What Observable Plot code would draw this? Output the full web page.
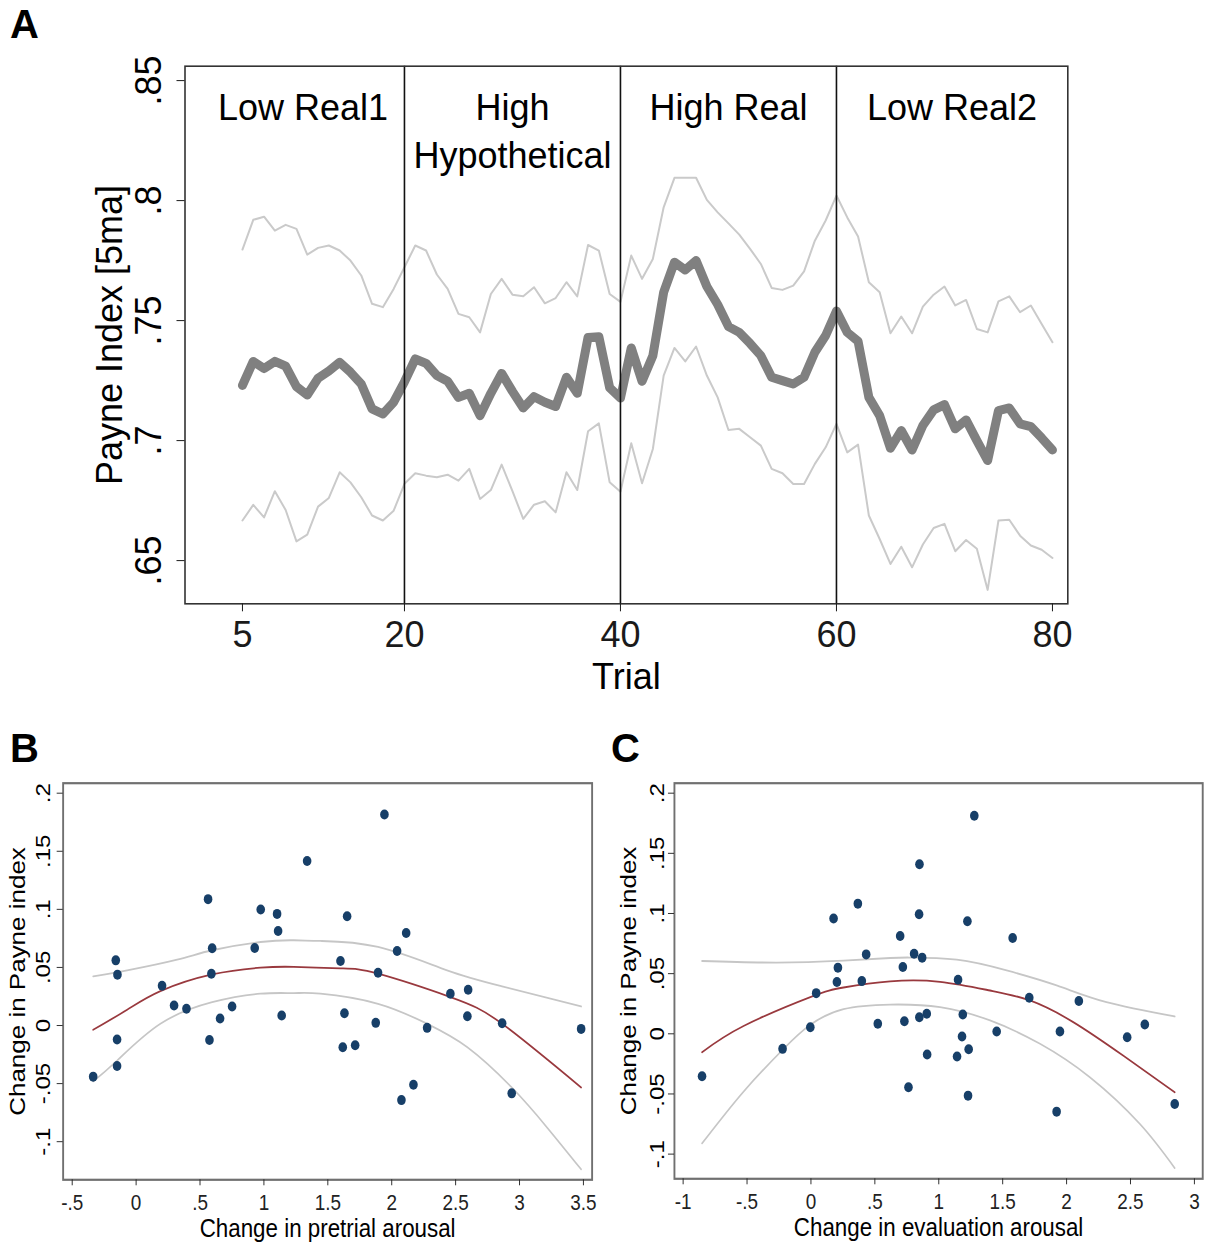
<!DOCTYPE html>
<html><head><meta charset="utf-8">
<script src="https://cdn.jsdelivr.net/npm/d3@7"></script>
<script src="https://cdn.jsdelivr.net/npm/@observablehq/plot@0.6"></script>
<style>
html,body{margin:0;padding:0;background:#fff;overflow:hidden;width:1206px;height:1249px;}
#root{position:relative;width:1206px;height:1249px;overflow:hidden;font-family:"Liberation Sans",Arial,Helvetica,sans-serif;}
.panel{position:absolute;}
.panel svg{max-width:none !important;display:block;}
.lbl{position:absolute;font-weight:bold;font-size:40px;line-height:1;color:#000;}
.squeeze{width:702px;height:549px;}
.squeeze svg{transform:scaleX(0.86);transform-origin:0 0;}
</style></head><body>
<div id="root">
  <div class="panel" id="pA" style="left:0;top:0;width:1206px;height:700px;"></div>
  <div class="panel squeeze" id="pB" style="left:0;top:700px;"></div>
  <div class="panel squeeze" id="pC" style="left:603px;top:700px;"></div>
  <div class="lbl" style="left:10px;top:4px;">A</div>
  <div class="lbl" style="left:10px;top:728px;">B</div>
  <div class="lbl" style="left:611px;top:728px;">C</div>
</div>
<script>
const FONT = "'Liberation Sans', Arial, Helvetica, sans-serif";

// ---------- Panel A data ----------
const trials = [5,6,7,8,9,10,11,12,13,14,15,16,17,18,19,20,21,22,23,24,25,26,27,28,29,30,31,32,33,34,35,36,37,38,39,40,41,42,43,44,45,46,47,48,49,50,51,52,53,54,55,56,57,58,59,60,61,62,63,64,65,66,67,68,69,70,71,72,73,74,75,76,77,78,79,80];
const payneMain = [0.723,0.733,0.730,0.733,0.731,0.7225,0.719,0.726,0.729,0.7326,0.7285,0.7236,0.7132,0.7111,0.716,0.7245,
  0.734,0.7322,0.7271,0.7247,0.718,0.7197,0.7104,0.7197,0.728,0.7205,0.7136,0.7183,0.716,0.7142,0.7264,0.7197,0.743,0.7433,0.722,0.7177,
  0.7386,0.7247,0.7354,0.7618,0.7743,0.7711,0.775,0.7642,0.7567,0.7475,0.7451,0.7405,0.7354,0.7264,0.725,0.7236,0.7264,0.7368,0.7438,0.754,
  0.7451,0.7414,0.718,0.7104,0.6968,0.7042,0.6961,0.7063,0.7128,0.715,0.7049,0.7086,0.700,0.6917,0.7125,0.7136,0.707,0.7058,0.7011,0.6961];
const payneUpper = [0.7796,0.792,0.7933,0.7875,0.7899,0.7882,0.7775,0.7803,0.7813,0.7792,0.775,0.7688,0.757,0.7556,0.7632,0.7722,
  0.7813,0.7792,0.7692,0.7632,0.7528,0.7514,0.7451,0.7611,0.7674,0.7608,0.7601,0.7639,0.7572,0.7594,0.766,0.7601,0.7815,0.7792,0.7611,0.7578,
  0.7771,0.7674,0.7757,0.7972,0.8095,0.8095,0.8095,0.8003,0.7951,0.7905,0.7858,0.7799,0.7736,0.7636,0.7628,0.7646,0.7705,0.7833,0.7917,0.8021,
  0.793,0.785,0.766,0.7618,0.7447,0.7517,0.7447,0.7558,0.7608,0.7642,0.7563,0.7586,0.7465,0.7451,0.758,0.7601,0.7535,0.7563,0.7486,0.741];
const payneLower = [0.6667,0.6732,0.668,0.6789,0.6711,0.658,0.6608,0.6725,0.6761,0.6868,0.6826,0.6764,0.6688,0.6667,0.6708,0.682,
  0.6864,0.6854,0.6847,0.6858,0.6833,0.6882,0.6757,0.6794,0.69,0.6789,0.6674,0.6733,0.6747,0.6701,0.6868,0.6794,0.7039,0.7072,0.6826,0.6787,
  0.6989,0.6822,0.6965,0.7271,0.7386,0.733,0.7392,0.7271,0.718,0.7044,0.7049,0.7014,0.6979,0.6882,0.6864,0.6819,0.6819,0.6903,0.6972,0.707,
  0.6951,0.6983,0.6688,0.659,0.6486,0.6558,0.6472,0.6567,0.6636,0.6653,0.6539,0.6586,0.6549,0.6378,0.6667,0.667,0.6604,0.6563,0.6545,0.6511];
const blockBoundaries = [20, 40, 60];
const blockLabels = ["Low Real1", "High\nHypothetical", "High Real", "Low Real2"];
const blockLabelTrial = [10.6, 30, 50, 70.7];
const xTicksA = [5, 20, 40, 60, 80];
const yTicksA = [0.65, 0.7, 0.75, 0.8, 0.85];
const yTickLabelsA = [".65", ".7", ".75", ".8", ".85"];
const xLabelA = "Trial";
const yLabelA = "Payne Index [5ma]";

// ---------- Panel B data ----------
const pretrialX = [-0.336,-0.159,-0.146,-0.149,-0.149,0.203,0.297,0.394,0.563,0.595,0.589,0.574,0.657,0.751,0.928,0.975,1.103,1.111,1.139,1.338,1.599,1.651,1.630,1.617,1.714,1.875,1.893,1.943,2.042,2.113,2.076,2.170,2.277,2.459,2.598,2.592,2.864,2.939,3.482];
const pretrialY = [-0.044,0.0561,0.0438,-0.0121,-0.0348,0.0343,0.0173,0.0144,0.1088,0.0665,0.0446,-0.0124,0.006,0.0164,0.0668,0.0999,0.0961,0.0814,0.0086,0.1416,0.0555,0.0941,0.0106,-0.0187,-0.017,0.0023,0.0455,0.1816,0.0642,0.0797,-0.0642,-0.051,-0.002,0.0274,0.0308,0.008,0.002,-0.0584,-0.0029];
const fitBX = [-0.336,-0.07,0.19,0.595,0.973,1.233,1.6,1.893,2.459,2.864,3.482];
const fitBY = [-0.0037,0.0136,0.0296,0.044,0.0498,0.0505,0.0492,0.0446,0.0245,0.0015,-0.0533];
const upBX = [-0.336,-0.07,0.321,0.595,0.973,1.233,1.442,1.893,2.433,2.864,3.482];
const upBY = [0.0423,0.0475,0.0567,0.0648,0.0719,0.0734,0.0728,0.0676,0.0475,0.0337,0.0164];
const loBX = [-0.336,-0.149,0.19,0.595,0.973,1.233,1.442,1.893,2.277,2.592,2.939,3.216,3.482];
const loBY = [-0.0481,-0.0302,0.0015,0.0201,0.0274,0.0279,0.0274,0.0187,0.0015,-0.0187,-0.0533,-0.0878,-0.1238];
const xTicksB = [-0.5,0,0.5,1,1.5,2,2.5,3,3.5];
const xTickLabelsB = ["-.5","0",".5","1","1.5","2","2.5","3","3.5"];
const xLabelB = "Change in pretrial arousal";

// ---------- Panel C data ----------
const evalX = [-0.852,-0.222,-0.005,0.041,0.177,0.211,0.203,0.367,0.398,0.432,0.523,0.698,0.719,0.731,0.763,0.849,0.846,0.807,0.87,0.848,0.906,0.909,1.143,1.182,1.234,1.188,1.151,1.224,1.278,1.229,1.453,1.578,1.708,1.922,1.948,2.096,2.474,2.612,2.846];
const evalY = [-0.0353,-0.0125,0.0055,0.0338,0.0958,0.055,0.043,0.1082,0.0438,0.066,0.0083,0.0813,0.0555,0.0105,-0.0444,0.141,0.0993,0.0666,0.0633,0.0138,0.0166,-0.0172,-0.0189,-0.0022,-0.0128,0.0161,0.045,0.0935,0.1812,-0.0514,0.0019,0.0796,0.03,-0.0647,0.0019,0.0272,-0.0028,0.0077,-0.0583];
const fitCX = [-0.852,-0.527,-0.005,0.255,0.62,1.01,1.401,1.713,2.052,2.442,2.846];
const fitCY = [-0.0153,0.0065,0.0305,0.0385,0.0436,0.0432,0.036,0.0277,0.0097,-0.0181,-0.0486];
const upCX = [-0.852,-0.266,0.255,0.62,0.776,1.141,1.531,1.922,2.312,2.846];
const upCY = [0.0605,0.0592,0.0608,0.0630,0.0634,0.0616,0.0527,0.0402,0.0263,0.0144];
const loCX = [-0.852,-0.527,-0.214,-0.005,0.255,0.62,1.01,1.401,1.792,2.182,2.573,2.846];
const loCY = [-0.0911,-0.048,-0.0125,0.0075,0.0205,0.0243,0.0222,0.0111,-0.0083,-0.0361,-0.0749,-0.1116];
const xTicksC = [-1,-0.5,0,0.5,1,1.5,2,2.5,3];
const xTickLabelsC = ["-1","-.5","0",".5","1","1.5","2","2.5","3"];
const xLabelC = "Change in evaluation arousal";

// shared y for B/C
const yTicksBC = [-0.1,-0.05,0,0.05,0.1,0.15,0.2];
const yTickLabelsBC = ["-.1","-.05","0",".05",".1",".15",".2"];
const yLabelBC = "Change in Payne index";

// ---------- Panel A ----------
const rowsA = trials.map((t, i) => ({trial: t, main: payneMain[i], upper: payneUpper[i], lower: payneLower[i]}));
const yMapA = new Map(yTicksA.map((v, i) => [v, yTickLabelsA[i]]));
const plotA = Plot.plot({
  width: 1206, height: 700,
  marginLeft: 184.5, marginRight: 138.7, marginTop: 65.7, marginBottom: 96.7,
  x: {domain: [-0.32, 81.42]},
  y: {domain: [0.632, 0.856]},
  style: {fontFamily: FONT, fontSize: "36px", color: "#1a1a1a", background: "transparent"},
  marks: [
    Plot.line(rowsA, {x: "trial", y: "upper", stroke: "#cacaca", strokeWidth: 2}),
    Plot.line(rowsA, {x: "trial", y: "lower", stroke: "#cacaca", strokeWidth: 2}),
    Plot.line(rowsA, {x: "trial", y: "main", stroke: "#808080", strokeWidth: 9, strokeLinejoin: "round", strokeLinecap: "round"}),
    Plot.ruleX(blockBoundaries, {stroke: "#111", strokeWidth: 1.6}),
    Plot.frame({stroke: "#333", strokeWidth: 1.6}),
    Plot.axisX({ticks: xTicksA, tickSize: 8, tickPadding: 10, fontSize: 36, label: null}),
    Plot.axisY({ticks: yTicksA, tickSize: 8, tickFormat: () => "", label: null}),
    Plot.text(yTicksA, {y: d => d, text: d => yMapA.get(d), frameAnchor: "left", textAnchor: "middle", dx: -35.5, rotate: -90, fontSize: 36, fill: "#000"}),
    Plot.text([yLabelA], {frameAnchor: "left", textAnchor: "middle", dx: -74.5, rotate: -90, fontSize: 36, fill: "#000"}),
    Plot.text([xLabelA], {frameAnchor: "bottom", dy: 60, lineAnchor: "top", fontSize: 36, fill: "#000"}),
    Plot.text(blockLabels, {x: (d, i) => blockLabelTrial[i], frameAnchor: "top", dy: 20, lineAnchor: "top", lineHeight: 1.33, fontSize: 36, fill: "#000"})
  ]
});
document.getElementById("pA").appendChild(plotA);

// ---------- Panels B & C ----------
const S = 0.86;
function scatterPanel(o) {
  const xMap = new Map(o.xTicks.map((v, i) => [v, o.xTickLabels[i]]));
  const yMap = new Map(yTicksBC.map((v, i) => [v, yTickLabelsBC[i]]));
  return Plot.plot({
    width: 603 / S, height: 549,
    marginLeft: o.ml / S, marginRight: o.mr / S, marginTop: 82.7, marginBottom: o.mb,
    x: {domain: o.xDomain},
    y: {domain: o.yDomain},
    style: {fontFamily: FONT, fontSize: "23px", color: "#222", background: "transparent"},
    marks: [
      Plot.line(o.upX, {x: o.upX, y: o.upY, stroke: "#c6c6c6", strokeWidth: 1.8, curve: "natural"}),
      Plot.line(o.loX, {x: o.loX, y: o.loY, stroke: "#c6c6c6", strokeWidth: 1.8, curve: "natural"}),
      Plot.line(o.fitX, {x: o.fitX, y: o.fitY, stroke: "#99393e", strokeWidth: 1.8, curve: "natural"}),
      Plot.dot(o.px, {x: o.px, y: o.py, r: 5, fill: "#173f68", stroke: "none"}),
      Plot.frame({stroke: "#707070", strokeWidth: 2.2}),
      Plot.axisX({ticks: o.xTicks, tickFormat: d => xMap.get(d), tickSize: 6, tickPadding: 9, fontSize: 22, label: null}),
      Plot.axisY({ticks: yTicksBC, tickSize: 7, tickFormat: () => "", label: null}),
      Plot.text(yTicksBC, {y: d => d, text: d => yMap.get(d), frameAnchor: "left", textAnchor: "middle", dx: o.tickDx, rotate: -90, fontSize: 24, fill: "#000"}),
      Plot.text([yLabelBC], {frameAnchor: "left", textAnchor: "middle", dx: o.labelDx, rotate: -90, fontSize: 26, fill: "#000"}),
      Plot.text([o.xLabel], {frameAnchor: "bottom", dy: 39, lineAnchor: "top", fontSize: 26, fill: "#000"})
    ]
  });
}

document.getElementById("pB").appendChild(scatterPanel({
  px: pretrialX, py: pretrialY, fitX: fitBX, fitY: fitBY, upX: upBX, upY: upBY, loX: loBX, loY: loBY,
  xDomain: [-0.571, 3.568], yDomain: [-0.1328, 0.2086],
  xTicks: xTicksB, xTickLabels: xTickLabelsB, xLabel: xLabelB,
  ml: 62.7, mr: 11.3, mb: 69.7, tickDx: -22.6, labelDx: -53
}));
document.getElementById("pC").appendChild(scatterPanel({
  px: evalX, py: evalY, fitX: fitCX, fitY: fitCY, upX: upCX, upY: upCY, loX: loCX, loY: loCY,
  xDomain: [-1.068, 3.065], yDomain: [-0.1205, 0.2083],
  xTicks: xTicksC, xTickLabels: xTickLabelsC, xLabel: xLabelC,
  ml: 71, mr: 3.7, mb: 70.7, tickDx: -20, labelDx: -53
}));
</script>
</body></html>
